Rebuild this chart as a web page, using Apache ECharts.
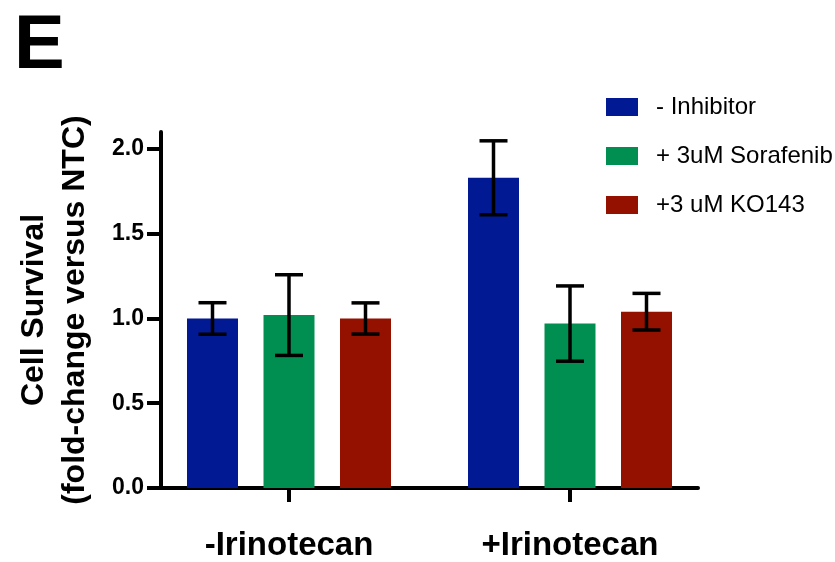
<!DOCTYPE html>
<html>
<head>
<meta charset="utf-8">
<script src="https://cdn.jsdelivr.net/npm/echarts@6/dist/echarts.min.js"></script>
<style>
  html, body { margin: 0; padding: 0; background: #fff; }
  #chart { width: 835px; height: 562px; }
</style>
</head>
<body>
<div id="chart"></div>
<script>
// Treatment groups along the x axis
const categories = ['-Irinotecan', '+Irinotecan'];

// Series names (legend)
const seriesNames = ['- Inhibitor', '+ 3uM Sorafenib', '+3 uM KO143'];

// Mean cell survival (fold-change versus NTC) and error (SD)
const inhibitorMean = [1.00, 1.83];
const inhibitorErr  = [0.093, 0.218];
const sorafenibMean = [1.02, 0.97];
const sorafenibErr  = [0.238, 0.222];
const ko143Mean     = [1.00, 1.04];
const ko143Err      = [0.092, 0.108];

// Y axis ticks
const yTicks = [0, 0.5, 1.0, 1.5, 2.0];

const colors = ['#011993', '#008F51', '#941100'];
const FONT = '"Liberation Sans", Arial, Helvetica, sans-serif';
const BAR_W = 51;
const BAR_GAP = 0.5;          // gap between bars of a group, relative to bar width
const AXIS_W = 4;

const means = [inhibitorMean, sorafenibMean, ko143Mean];
const errs  = [inhibitorErr, sorafenibErr, ko143Err];

const chart = echarts.init(document.getElementById('chart'), null, { renderer: 'canvas' });

// Error bar with caps, shifted to the matching bar inside its category band
function errorSeries(idx) {
  const step = BAR_W * (1 + BAR_GAP);
  return {
    type: 'custom',
    xAxisIndex: 0,
    yAxisIndex: 0,
    z: 10,
    silent: true,
    data: means[idx].map((m, i) => [i, m - errs[idx][i], m + errs[idx][i]]),
    renderItem(params, api) {
      const ci = api.value(0);
      const lo = api.coord([ci, api.value(1)]);
      const hi = api.coord([ci, api.value(2)]);
      const x = lo[0] + (idx - 1) * step;
      const cap = 14;
      const style = { stroke: '#000', lineWidth: 3.5, fill: null };
      return {
        type: 'group',
        children: [
          { type: 'line', shape: { x1: x, y1: hi[1], x2: x, y2: lo[1] }, style },
          { type: 'line', shape: { x1: x - cap, y1: hi[1], x2: x + cap, y2: hi[1] }, style },
          { type: 'line', shape: { x1: x - cap, y1: lo[1], x2: x + cap, y2: lo[1] }, style }
        ]
      };
    }
  };
}

const barSeries = seriesNames.map((name, idx) => ({
  name,
  type: 'bar',
  xAxisIndex: 0,
  yAxisIndex: 0,
  data: means[idx],
  barWidth: BAR_W,
  barGap: (BAR_GAP * 100) + '%',
  itemStyle: { color: colors[idx] },
  silent: true
}));

const option = {
  animation: false,
  textStyle: { fontFamily: FONT },
  title: {
    text: 'E',
    left: 9,
    top: 4,
    textStyle: { fontSize: 76, fontWeight: 'bold', color: '#000', fontFamily: FONT }
  },
  legend: {
    data: seriesNames,
    orient: 'vertical',
    left: 606,
    top: 95,
    padding: 0,
    itemWidth: 32,
    itemHeight: 18,
    itemGap: 25,
    icon: 'rect',
    selectedMode: false,
    textStyle: { fontSize: 24, lineHeight: 18, color: '#000', fontFamily: FONT, padding: [0, 0, 0, 13] }
  },
  grid: [
    // bars and category ticks
    { left: 148.5, width: 562, top: 132, height: 356 },
    // visible axis frame
    { left: 161, width: 537, top: 132, height: 356 }
  ],
  xAxis: [
    {
      type: 'category',
      gridIndex: 0,
      data: categories,
      axisLine: { show: false },
      axisTick: { show: true, alignWithLabel: true, length: 14, lineStyle: { color: '#000', width: AXIS_W } },
      axisLabel: { margin: 41, fontSize: 33, fontWeight: 'bold', color: '#000', fontFamily: FONT },
      splitLine: { show: false }
    },
    {
      type: 'value',
      gridIndex: 1,
      min: 0,
      max: 1,
      axisLine: { show: true, onZero: false, lineStyle: { color: '#000', width: AXIS_W } },
      axisTick: { show: false },
      axisLabel: { show: false },
      splitLine: { show: false }
    }
  ],
  yAxis: [
    {
      type: 'value',
      gridIndex: 0,
      min: 0,
      max: 2.1,
      show: false
    },
    {
      type: 'value',
      gridIndex: 1,
      min: 0,
      max: 2.1,
      interval: 0.5,
      name: 'Cell Survival\n(fold-change versus NTC)',
      nameLocation: 'middle',
      nameRotate: 90,
      nameGap: 65,
      nameTextStyle: { fontSize: 32, fontWeight: 'bold', color: '#000', lineHeight: 41, fontFamily: FONT },
      axisLine: { show: true, lineStyle: { color: '#000', width: AXIS_W } },
      axisTick: { show: true, length: 14, customValues: yTicks, lineStyle: { color: '#000', width: AXIS_W } },
      axisLabel: {
        margin: 17,
        fontSize: 23,
        fontWeight: 'bold',
        color: '#000',
        fontFamily: FONT,
        customValues: yTicks,
        formatter: v => v.toFixed(1)
      },
      splitLine: { show: false }
    }
  ],
  series: [...barSeries, errorSeries(0), errorSeries(1), errorSeries(2)]
};

chart.setOption(option);
</script>
</body>
</html>
